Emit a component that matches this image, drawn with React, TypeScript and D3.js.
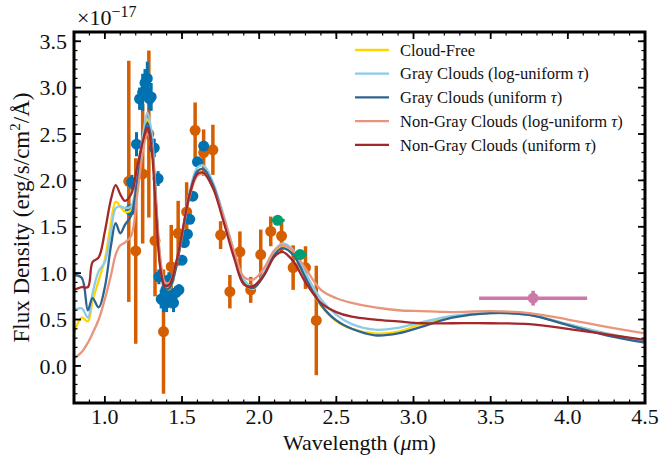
import React from "react";
import * as d3 from "d3";

// Model wavelength grid (µm) and model spectra (units of 1e-17 erg/s/cm^2/Å)
const wave = [0.80, 0.85, 0.89, 0.92, 0.96, 1.00, 1.04, 1.07, 1.10, 1.13, 1.17, 1.21, 1.25, 1.275, 1.30, 1.33, 1.36, 1.39, 1.42, 1.46, 1.50, 1.55, 1.60, 1.64, 1.70, 1.77, 1.84, 1.90, 1.96, 2.03, 2.10, 2.15, 2.22, 2.30, 2.40, 2.50, 2.60, 2.75, 2.90, 3.05, 3.25, 3.50, 3.75, 4.00, 4.25, 4.50];

const cloudFree = [0.35, 0.52, 0.48, 0.70, 0.92, 1.15, 1.55, 1.77, 1.72, 1.66, 1.68, 2.00, 2.45, 2.66, 2.50, 1.80, 1.10, 0.84, 0.83, 1.05, 1.40, 1.85, 2.10, 2.12, 1.95, 1.60, 1.20, 0.90, 0.83, 0.98, 1.20, 1.28, 1.20, 0.95, 0.65, 0.48, 0.40, 0.35, 0.37, 0.45, 0.53, 0.57, 0.55, 0.45, 0.35, 0.27];
const grayLogU = [0.60, 0.62, 0.52, 0.78, 1.02, 1.12, 1.45, 1.70, 1.72, 1.70, 1.72, 2.05, 2.52, 2.73, 2.55, 1.85, 1.12, 0.86, 0.86, 1.08, 1.42, 1.88, 2.14, 2.16, 1.98, 1.62, 1.22, 0.93, 0.86, 1.00, 1.24, 1.32, 1.25, 1.00, 0.72, 0.55, 0.45, 0.39, 0.41, 0.47, 0.54, 0.57, 0.55, 0.45, 0.35, 0.26];
const grayU = [0.98, 0.95, 0.60, 0.73, 0.63, 0.85, 1.30, 1.54, 1.43, 1.52, 1.62, 2.00, 2.42, 2.62, 2.45, 1.78, 1.08, 0.83, 0.84, 1.05, 1.40, 1.85, 2.10, 2.12, 1.95, 1.58, 1.18, 0.89, 0.84, 0.97, 1.20, 1.27, 1.20, 0.95, 0.66, 0.49, 0.40, 0.33, 0.35, 0.42, 0.52, 0.57, 0.55, 0.44, 0.33, 0.25];
const nonGrayLogU = [0.08, 0.15, 0.25, 0.35, 0.50, 0.72, 0.98, 1.20, 1.30, 1.33, 1.40, 1.85, 2.35, 2.50, 2.40, 1.80, 1.15, 0.90, 0.90, 1.10, 1.42, 1.83, 2.05, 2.07, 1.92, 1.60, 1.22, 0.96, 0.93, 1.05, 1.25, 1.30, 1.24, 1.05, 0.82, 0.73, 0.68, 0.63, 0.60, 0.59, 0.58, 0.59, 0.57, 0.50, 0.42, 0.35];
const nonGrayU = [0.82, 0.85, 0.85, 1.12, 1.17, 1.45, 1.80, 1.95, 1.85, 1.78, 1.85, 2.15, 2.45, 2.57, 2.38, 1.70, 1.05, 0.86, 0.88, 1.10, 1.43, 1.85, 2.07, 2.08, 1.92, 1.55, 1.15, 0.88, 0.86, 0.98, 1.18, 1.23, 1.13, 0.90, 0.68, 0.58, 0.53, 0.50, 0.48, 0.46, 0.46, 0.46, 0.45, 0.40, 0.34, 0.28];

const modelNames = [
  "Cloud-Free",
  "Gray Clouds (log-uniform τ)",
  "Gray Clouds (uniform τ)",
  "Non-Gray Clouds (log-uniform τ)",
  "Non-Gray Clouds (uniform τ)",
];
const modelColors = ["#ffd500", "#8ccbea", "#2f6390", "#e9957c", "#a3282a"];
const models = [cloudFree, grayLogU, grayU, nonGrayLogU, nonGrayU];

// Observed spectrum, space-based (wavelength, flux, error)
const specWave = [1.165, 1.175, 1.205, 1.225, 1.245, 1.26, 1.275, 1.29, 1.30, 1.32, 1.345, 1.35, 1.365, 1.38, 1.395, 1.40, 1.415, 1.43, 1.445, 1.46, 1.48, 1.50, 1.515, 1.535, 1.55, 1.57, 1.60, 1.64];
const specFlux = [1.68, 1.98, 2.39, 2.88, 2.95, 3.05, 3.10, 2.88, 2.90, 2.35, 2.02, 0.96, 0.72, 0.70, 0.82, 0.68, 0.93, 0.75, 0.68, 0.79, 0.82, 1.14, 1.33, 1.42, 1.58, 1.83, 2.20, 2.37];
const specErr = [0.06, 0.08, 0.13, 0.12, 0.20, 0.15, 0.18, 0.12, 0.15, 0.10, 0.08, 0.08, 0.10, 0.12, 0.10, 0.10, 0.08, 0.08, 0.10, 0.07, 0.06, 0.05, 0.05, 0.05, 0.05, 0.05, 0.05, 0.05];

// Ground-based spectrum
const groundWave = [1.155, 1.20, 1.245, 1.285, 1.325, 1.38, 1.43, 1.475, 1.53, 1.585, 1.64, 1.70, 1.75, 1.81, 1.875, 1.945, 2.01, 2.075, 2.145, 2.22, 2.30, 2.37];
const groundFlux = [1.99, 1.24, 2.07, 2.50, 1.35, 0.37, 1.07, 1.43, 1.66, 2.54, 2.30, 2.33, 1.41, 0.80, 1.23, 0.82, 1.20, 1.45, 1.40, 1.06, 1.06, 0.49];
const groundErr = [1.30, 1.00, 0.75, 0.90, 0.60, 0.67, 0.45, 0.35, 0.32, 0.30, 0.25, 0.27, 0.15, 0.18, 0.22, 0.14, 0.27, 0.16, 0.17, 0.24, 0.23, 0.59];

// Photometry (wavelength, half-width, flux, error)
const photWave = [2.12, 2.265];
const photHalfWidth = [0.045, 0.045];
const photFlux = [1.57, 1.20];
const photErr = [0.02, 0.02];

const irWave = [3.775];
const irHalfWidth = [0.35];
const irFlux = [0.73];
const irErr = [0.08];

const xTicks = [1.0, 1.5, 2.0, 2.5, 3.0, 3.5, 4.0, 4.5];
const yTicks = [0.0, 0.5, 1.0, 1.5, 2.0, 2.5, 3.0, 3.5];

const W = 662;
const H = 458;
const M = { left: 74, right: 17, top: 32, bottom: 55 };
const FONT = "'Liberation Serif', 'DejaVu Serif', serif";

export default function App() {
  const x = d3.scaleLinear().domain([0.8, 4.5]).range([M.left, W - M.right]);
  const y = d3.scaleLinear().domain([-0.4, 3.6]).range([H - M.bottom, M.top]);

  const line = d3
    .line<number>()
    .x((_, i) => x(wave[i]))
    .y((d) => y(d))
    .curve(d3.curveCatmullRom.alpha(0.5));

  const xMinor = d3.range(8, 46).map((v) => v / 10);
  const yMinor = d3.range(-4, 37).map((v) => v / 10);
  const x0 = M.left, x1 = W - M.right, y0 = M.top, y1 = H - M.bottom;

  const orange = "#d55e00";
  const blue = "#0072b2";
  const green = "#009e73";
  const pink = "#cc79a7";

  return (
    <svg width={W} height={H} style={{ position: "absolute", left: 0, top: 0, background: "#fff" }} fontFamily={FONT}>
      <defs>
        <clipPath id="plot">
          <rect x={x0} y={y0} width={x1 - x0} height={y1 - y0} />
        </clipPath>
      </defs>

      <g clipPath="url(#plot)">
        {/* ground-based spectrum */}
        {groundWave.map((w, i) => (
          <g key={"g" + i}>
            <line x1={x(w)} x2={x(w)} y1={y(groundFlux[i] - groundErr[i])} y2={y(groundFlux[i] + groundErr[i])} stroke={orange} strokeWidth={3.5} />
            <circle cx={x(w)} cy={y(groundFlux[i])} r={5.5} fill={orange} />
          </g>
        ))}
        {/* space-based spectrum */}
        {specWave.map((w, i) => (
          <g key={"s" + i}>
            <line x1={x(w)} x2={x(w)} y1={y(specFlux[i] - specErr[i])} y2={y(specFlux[i] + specErr[i])} stroke={blue} strokeWidth={3} />
            <circle cx={x(w)} cy={y(specFlux[i])} r={5.5} fill={blue} />
          </g>
        ))}
        {/* model spectra */}
        {models.map((m, i) => (
          <path key={"m" + i} d={line(m) || ""} fill="none" stroke={modelColors[i]} strokeWidth={2.3} />
        ))}
        {/* photometry */}
        {photWave.map((w, i) => (
          <g key={"p" + i}>
            <line x1={x(w - photHalfWidth[i])} x2={x(w + photHalfWidth[i])} y1={y(photFlux[i])} y2={y(photFlux[i])} stroke={green} strokeWidth={3} />
            <line x1={x(w)} x2={x(w)} y1={y(photFlux[i] - photErr[i])} y2={y(photFlux[i] + photErr[i])} stroke={green} strokeWidth={3} />
            <circle cx={x(w)} cy={y(photFlux[i])} r={5.5} fill={green} />
          </g>
        ))}
        {irWave.map((w, i) => (
          <g key={"ir" + i}>
            <line x1={x(w - irHalfWidth[i])} x2={x(w + irHalfWidth[i])} y1={y(irFlux[i])} y2={y(irFlux[i])} stroke={pink} strokeWidth={3.5} />
            <line x1={x(w)} x2={x(w)} y1={y(irFlux[i] - irErr[i])} y2={y(irFlux[i] + irErr[i])} stroke={pink} strokeWidth={3.5} />
            <circle cx={x(w)} cy={y(irFlux[i])} r={5.5} fill={pink} />
          </g>
        ))}
      </g>

      {/* ticks (inward, all sides) */}
      <g stroke="#000">
        {xMinor.map((v, i) => (
          <g key={"xm" + i}>
            <line x1={x(v)} x2={x(v)} y1={y1} y2={y1 - 3.5} strokeWidth={1.2} />
            <line x1={x(v)} x2={x(v)} y1={y0} y2={y0 + 3.5} strokeWidth={1.2} />
          </g>
        ))}
        {yMinor.map((v, i) => (
          <g key={"ym" + i}>
            <line x1={x0} x2={x0 + 3.5} y1={y(v)} y2={y(v)} strokeWidth={1.2} />
            <line x1={x1} x2={x1 - 3.5} y1={y(v)} y2={y(v)} strokeWidth={1.2} />
          </g>
        ))}
        {xTicks.map((v, i) => (
          <g key={"xM" + i}>
            <line x1={x(v)} x2={x(v)} y1={y1} y2={y1 - 7} strokeWidth={1.8} />
            <line x1={x(v)} x2={x(v)} y1={y0} y2={y0 + 7} strokeWidth={1.8} />
          </g>
        ))}
        {yTicks.map((v, i) => (
          <g key={"yM" + i}>
            <line x1={x0} x2={x0 + 7} y1={y(v)} y2={y(v)} strokeWidth={1.8} />
            <line x1={x1} x2={x1 - 7} y1={y(v)} y2={y(v)} strokeWidth={1.8} />
          </g>
        ))}
      </g>
      <rect x={x0} y={y0} width={x1 - x0} height={y1 - y0} fill="none" stroke="#000" strokeWidth={3} />

      {/* tick labels */}
      {xTicks.map((v, i) => (
        <text key={"xl" + i} x={x(v)} y={y1 + 21} textAnchor="middle" fontSize={22} fill="#111">
          {v.toFixed(1)}
        </text>
      ))}
      {yTicks.map((v, i) => (
        <text key={"yl" + i} x={x0 - 7} y={y(v)} dy="0.35em" textAnchor="end" fontSize={22} fill="#111">
          {v.toFixed(1)}
        </text>
      ))}
      <text x={x0 + 3} y={25} fontSize={22} fill="#111">
        ×10<tspan dy={-8} fontSize={16}>−17</tspan>
      </text>

      {/* axis titles */}
      <text x={(x0 + x1) / 2} y={H - 8} textAnchor="middle" fontSize={22} fill="#111">
        Wavelength (<tspan fontStyle="italic">μ</tspan>m)
      </text>
      <text transform={`translate(29,${(y0 + y1) / 2}) rotate(-90)`} textAnchor="middle" fontSize={23} fill="#111">
        Flux Density (erg/s/cm<tspan dy={-9} fontSize={15}>2</tspan><tspan dy={9}>/Å)</tspan>
      </text>

      {/* legend */}
      {modelNames.map((name, i) => {
        const ly = 50 + i * 23.7;
        return (
          <g key={"lg" + i}>
            <line x1={355} x2={389} y1={ly} y2={ly} stroke={modelColors[i]} strokeWidth={2.3} />
            <text x={400} y={ly} dy="0.35em" fontSize={16.5} fill="#111">
              {name.endsWith("τ)") ? (
                <>
                  {name.slice(0, -2)}
                  <tspan fontStyle="italic">τ</tspan>)
                </>
              ) : (
                name
              )}
            </text>
          </g>
        );
      })}
    </svg>
  );
}
